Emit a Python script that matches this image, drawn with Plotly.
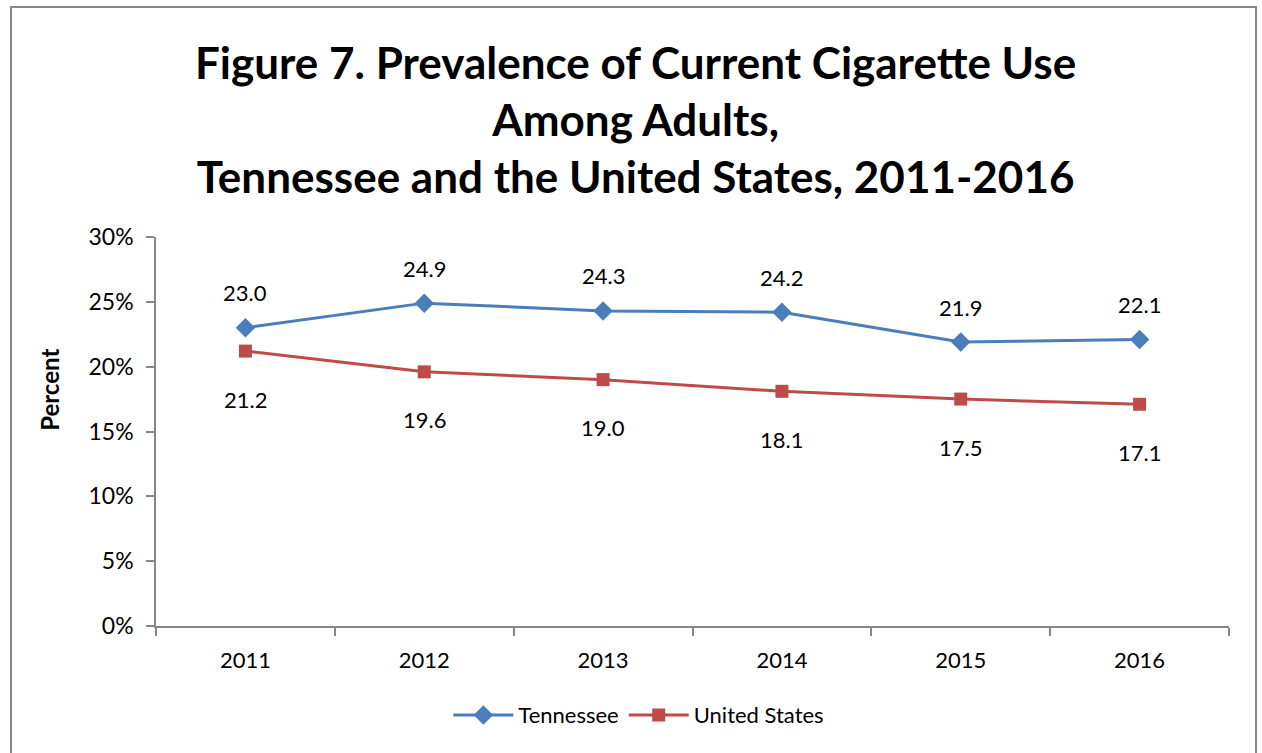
import plotly.graph_objects as go

years = ["2011", "2012", "2013", "2014", "2015", "2016"]
tennessee = [23.0, 24.9, 24.3, 24.2, 21.9, 22.1]
united_states = [21.2, 19.6, 19.0, 18.1, 17.5, 17.1]

TN_COLOR = "#4A7EBB"
US_COLOR = "#BE4B48"
AXIS_COLOR = "#878787"
FONT = "Lato"
LABEL_SIZE = 22

fig = go.Figure()
fig.add_trace(go.Scatter(
    x=years, y=tennessee, name="Tennessee", mode="lines+markers",
    line=dict(color=TN_COLOR, width=3),
    marker=dict(symbol="diamond", size=15, color=TN_COLOR),
))
fig.add_trace(go.Scatter(
    x=years, y=united_states, name="United States", mode="lines+markers",
    line=dict(color=US_COLOR, width=3),
    marker=dict(symbol="square", size=13, color=US_COLOR),
))

# value labels: Tennessee above its points, United States below
# (category positions given by index so numeric-looking years stay categories)
annotations = []
for i, v in enumerate(tennessee):
    annotations.append(dict(x=i, y=v, xref="x", yref="y", text=f"{v:.1f}",
                            showarrow=False, yshift=35,
                            font=dict(family=FONT, size=LABEL_SIZE, color="#000")))
for i, v in enumerate(united_states):
    annotations.append(dict(x=i, y=v, xref="x", yref="y", text=f"{v:.1f}",
                            showarrow=False, yshift=-48,
                            font=dict(family=FONT, size=LABEL_SIZE, color="#000")))

# chart title, three centred lines
annotations.append(dict(
    text="Figure 7. Prevalence of Current Cigarette Use<br>Among Adults,<br>Tennessee and the United States, 2011-2016",
    xref="paper", yref="paper", x=0.447, y=1.303, xanchor="center", yanchor="middle",
    showarrow=False, align="center",
    font=dict(family=FONT, size=44, color="#000", weight="bold"),
))

# vertical axis title
annotations.append(dict(
    text="<b>Percent</b>", xref="paper", yref="paper", x=-0.0988, y=0.607,
    xanchor="center", yanchor="middle", textangle=-90, showarrow=False,
    font=dict(family=FONT, size=24, color="#000"),
))

# outer chart frame
frame = dict(type="rect", xref="paper", yref="paper",
             x0=-0.1351, x1=1.0252, y0=-0.6, y1=1.591,
             line=dict(color=AXIS_COLOR, width=2), fillcolor="rgba(0,0,0,0)")

fig.update_layout(
    width=1262, height=753,
    margin=dict(l=156, r=33, t=237, b=127),
    paper_bgcolor="white", plot_bgcolor="white",
    font=dict(family=FONT, size=LABEL_SIZE, color="#000"),
    xaxis=dict(
        type="category", tickson="boundaries", ticks="outside", ticklen=8,
        tickcolor=AXIS_COLOR, tickwidth=1.5,
        showline=True, linecolor=AXIS_COLOR, linewidth=1.5,
        showgrid=False, tickfont=dict(family=FONT, size=LABEL_SIZE),
        ticklabelstandoff=14,
        range=[-0.5, 5.5],
    ),
    yaxis=dict(
        range=[0, 30], dtick=5, ticksuffix="%", ticks="outside", ticklen=8,
        tickcolor=AXIS_COLOR, tickwidth=1.5,
        showline=True, linecolor=AXIS_COLOR, linewidth=1.5,
        showgrid=False, zeroline=False, tickfont=dict(family=FONT, size=23),
        ticklabelstandoff=8,
    ),
    legend=dict(orientation="h", x=0.45, xanchor="center", y=-0.229, yanchor="middle",
                font=dict(family=FONT, size=LABEL_SIZE), itemwidth=60),
    annotations=annotations,
    shapes=[frame],
)

fig.write_html("out.html")
